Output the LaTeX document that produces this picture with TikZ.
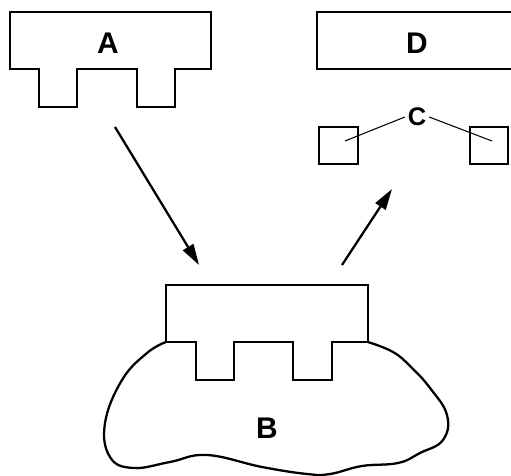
\documentclass[tikz,border=0pt]{standalone}
\usepackage{fontspec}
\setmainfont{Liberation Sans}
\usetikzlibrary{arrows.meta, positioning}

\begin{document}
\begin{tikzpicture}[x=0.02cm, y=-0.02cm,
    part/.style={line width=1.3pt},
    thinline/.style={line width=0.6pt},
    flow/.style={line width=1.3pt, -{Triangle[length=0.42cm, width=0.24cm]}},
    lbl/.style={font=\fontsize{17}{20}\selectfont\bfseries},
    smalllbl/.style={font=\fontsize{14.5}{17}\selectfont\bfseries, inner sep=1.5pt}]
    \useasboundingbox (0,0) rectangle (511,476);
    \clip (0,0) rectangle (511,476);

    % Part A with two teeth
    \draw[part] (10,12) -- (211,12) -- (211,69) -- (175,69) -- (175,107)
        -- (137,107) -- (137,69) -- (77,69) -- (77,107) -- (39,107)
        -- (39,69) -- (10,69) -- cycle;
    \node[lbl] (labelA) at (108,43) {A};

    % Part D (runs off the right edge)
    \draw[part] (515,12) -- (317,12) -- (317,69) -- (515,69);
    \node[lbl] (labelD) at (417,43) {D};

    % Two small boxes and label C
    \draw[part] (319,127) rectangle (358,164);
    \draw[part] (470,127) rectangle (508,164);
    \node[smalllbl] (labelC) at (417,117) {C};
    \coordinate (holeL) at (345,141);
    \coordinate (holeR) at (492,141);
    \draw[thinline] (labelC.west) -- (holeL);
    \draw[thinline] (labelC.east) -- (holeR);

    % Arrows
    \coordinate (fromA) at (115,127);
    \coordinate (toB) at (199,265);
    \coordinate (fromB) at (342,265);
    \coordinate (toD) at (392,189);
    \draw[flow] (fromA) -- (toB);
    \draw[flow] (fromB) -- (toD);

    % Part B on the blob
    \draw[part] (166,342) -- (166,285) -- (368,285) -- (368,342)
        -- (332,342) -- (332,380) -- (293,380) -- (293,342) -- (234,342)
        -- (234,380) -- (196,380) -- (196,342) -- cycle;

    % Blob under B
    \draw[part] plot[smooth, tension=0.7] coordinates {
        (368,342) (393,352) (411,367) (430,388) (447,415) (443,440)
        (420,453) (398,463) (362,466) (330,474) (307,474) (262,467)
        (207,455) (170,462) (133,468) (110,457) (105,423) (122,380)
        (147,353) (166,342)};
    \node[lbl] (labelB) at (267,428) {B};
\end{tikzpicture}
\end{document}
